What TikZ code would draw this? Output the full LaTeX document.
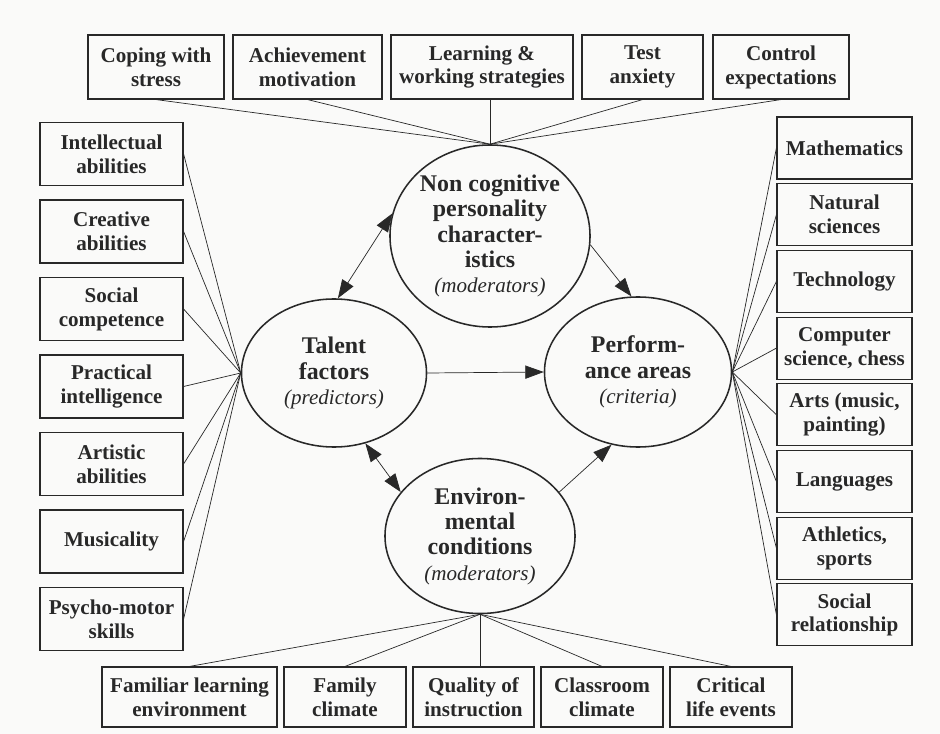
\documentclass[tikz,border=0pt]{standalone}
\usepackage{fontspec}
\setmainfont{Liberation Serif}
\usetikzlibrary{shapes.geometric,arrows.meta}
\definecolor{ink}{RGB}{40,40,40}
\definecolor{paper}{RGB}{250,250,249}
\newcommand{\rolenote}[1]{{\mdseries\itshape\fontsize{15}{17}\selectfont(#1)}}
\tikzset{
  factor/.style={draw=ink,line width=.8pt,text=ink,align=center,inner sep=2pt,font=\bfseries\fontsize{15}{17}\selectfont},
  core/.style={ellipse,draw=ink,line width=1.1pt,text=ink,align=center,inner sep=0pt,font=\bfseries\fontsize{17}{18}\selectfont},
  link/.style={draw=ink,line width=.5pt},
  flow/.style={link,-{Triangle[length=4.6mm,width=3.3mm]}},
  mutual/.style={link,{Triangle[length=4.6mm,width=3.3mm]}-{Triangle[length=4.6mm,width=3.3mm]}}
}
\begin{document}
\begin{tikzpicture}[x=0.025cm,y=-0.025cm]
\fill[paper] (0,0) rectangle (940,734);
\node[core,minimum width=5cm,minimum height=4.55cm] (noncog) at (490,236) {Non cognitive\\personality\\character-\\istics\\\rolenote{moderators}};
\node[core,minimum width=4.625cm,minimum height=3.7cm] (talent) at (334,373) {Talent\\factors\\\rolenote{predictors}};
\node[core,minimum width=4.675cm,minimum height=3.75cm] (perf) at (638,372) {Perform-\\ance areas\\\rolenote{criteria}};
\node[core,minimum width=4.75cm,minimum height=3.875cm] (env) at (480,536) {Environ-\\mental\\conditions\\\rolenote{moderators}};

\foreach \name/\x/\w/\txt in {cope/156/3.4/{Coping with\\stress},achieve/307.5/3.725/{Achievement\\motivation},learn/482/4.55/{Learning \&\\working strategies},anx/642.5/3.025/{Test\\anxiety},ctrl/781/3.4/{Control\\expectations}}
  \node[factor,minimum width=\w cm,minimum height=1.6cm] (\name) at (\x,67) {\txt};
\foreach \name in {cope,achieve,anx,ctrl} \draw[link] (noncog.north) -- (\name.south);
\draw[link] (noncog.north) -- (noncog.north |- learn.south);

\foreach \txt [count=\i from 0] in {{Intellectual\\abilities},{Creative\\abilities},{Social\\competence},{Practical\\intelligence},{Artistic\\abilities},{Musicality},{Psycho-motor\\skills}}{
  \node[factor,minimum width=3.575cm,minimum height=1.575cm] (tal\i) at (111.5,{154+77.5*\i}) {\txt};
  \draw[link] (talent.west) -- (tal\i.east);}

\foreach \txt [count=\i from 0] in {{Mathematics},{Natural\\sciences},{Technology},{Computer\\science, chess},{Arts (music,\\painting)},{Languages},{Athletics,\\sports},{Social\\relationship}}{
  \node[factor,minimum width=3.375cm,minimum height=1.55cm] (area\i) at (844.5,{148+66.7*\i}) {\txt};
  \draw[link] (perf.east) -- (area\i.west);}

\foreach \name/\x/\w/\txt in {famlearn/189.5/4.375/{Familiar learning\\environment},famclim/345/3.05/{Family\\climate},quality/473.5/3.025/{Quality of\\instruction},classclim/602/3.05/{Classroom\\climate},events/731/3.05/{Critical\\life events}}
  \node[factor,minimum width=\w cm,minimum height=1.5cm] (\name) at (\x,697) {\txt};
\foreach \name in {famlearn,famclim,classclim,events} \draw[link] (env.south) -- (\name.north);
\draw[link] (env.south) -- (env.south |- quality.north);

\draw[mutual] (talent.87) -- (noncog.167); \draw[flow] (noncog.-5) -- (perf.95);
\draw[flow] (talent.east) -- (perf.west);
\draw[mutual] (talent.-66) -- (env.151); \draw[flow] (env.29) -- (perf.250);
\end{tikzpicture}
\end{document}
